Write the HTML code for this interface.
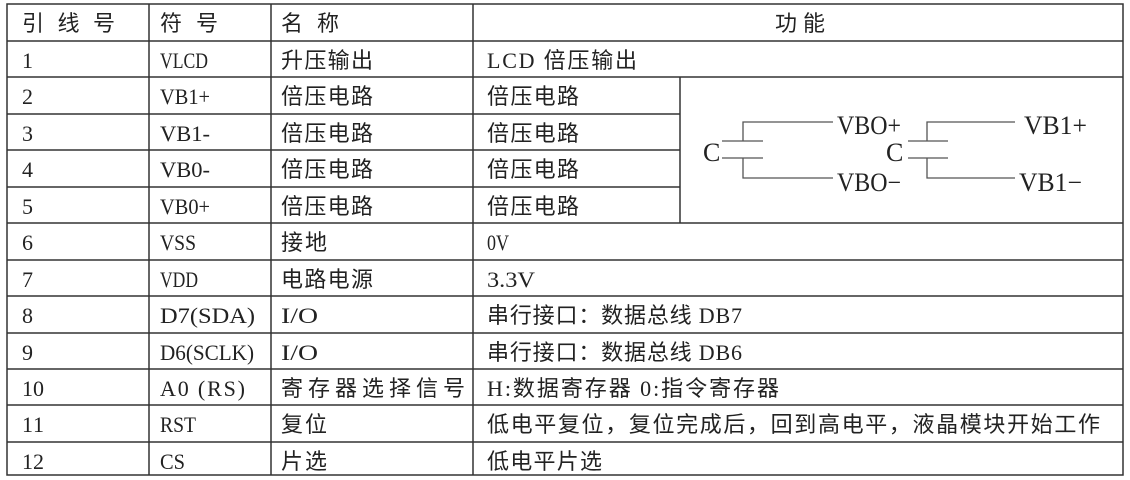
<!DOCTYPE html>
<html><head><meta charset="utf-8"><style>
html,body{margin:0;padding:0;background:#fff;width:1130px;height:480px;overflow:hidden}
svg{display:block}
text{font-family:"Liberation Serif","Noto Sans CJK SC",serif;font-size:22px;fill:#222}
.c{font-family:"Liberation Serif","Noto Sans CJK SC",sans-serif;font-size:22px}
</style></head><body>
<svg width="1130" height="480" viewBox="0 0 1130 480">
<g stroke="#333" stroke-width="1.5" fill="none">
<rect x="7" y="4" width="1116" height="471"/>
<line x1="149" y1="4" x2="149" y2="475"/>
<line x1="271" y1="4" x2="271" y2="475"/>
<line x1="473" y1="4" x2="473" y2="475"/>
<line x1="680" y1="77" x2="680" y2="223"/>
<line x1="7" y1="41" x2="1123" y2="41"/>
<line x1="7" y1="77" x2="1123" y2="77"/>
<line x1="7" y1="114" x2="680" y2="114"/>
<line x1="7" y1="150" x2="680" y2="150"/>
<line x1="7" y1="187" x2="680" y2="187"/>
<line x1="7" y1="223" x2="1123" y2="223"/>
<line x1="7" y1="260" x2="1123" y2="260"/>
<line x1="7" y1="296" x2="1123" y2="296"/>
<line x1="7" y1="333" x2="1123" y2="333"/>
<line x1="7" y1="369" x2="1123" y2="369"/>
<line x1="7" y1="405" x2="1123" y2="405"/>
<line x1="7" y1="442" x2="1123" y2="442"/>
</g>
<g stroke="#555" stroke-width="1.3" fill="none">
<path d="M722 141H763M722 158H763M743 141V122H833M743 158V178H833"/>
<path d="M908 141H948M908 158H948M927 141V122H1015M927 158V178H1015"/>
</g>
<g>
<text x="703" y="161" style="font-size:26px">C</text>
<text x="837" y="134" style="font-size:26px" textLength="64" lengthAdjust="spacingAndGlyphs">VBO+</text>
<text x="837" y="191" style="font-size:26px" textLength="64" lengthAdjust="spacingAndGlyphs">VBO−</text>
<text x="886" y="161" style="font-size:26px">C</text>
<text x="1024" y="134" style="font-size:26px" textLength="63" lengthAdjust="spacingAndGlyphs">VB1+</text>
<text x="1019" y="191" style="font-size:26px" textLength="63" lengthAdjust="spacingAndGlyphs">VB1−</text>
</g>
<text class="c" x="22" y="31" textLength="93">引 线 号</text>
<text class="c" x="160" y="31" textLength="58">符 号</text>
<text class="c" x="281" y="31" textLength="58">名 称</text>
<text class="c" x="775" y="31" textLength="50">功 能</text>

<text x="22" y="68">1</text><text x="160" y="68" textLength="48" lengthAdjust="spacingAndGlyphs">VLCD</text><text class="c" x="281" y="68" textLength="92">升压输出</text><text class="c" x="487" y="68" textLength="150">LCD 倍压输出</text>
<text x="22" y="104">2</text><text x="160" y="104" textLength="50" lengthAdjust="spacingAndGlyphs">VB1+</text><text class="c" x="281" y="104" textLength="92">倍压电路</text><text class="c" x="487" y="104" textLength="92">倍压电路</text>
<text x="22" y="141">3</text><text x="160" y="141" textLength="50" lengthAdjust="spacingAndGlyphs">VB1-</text><text class="c" x="281" y="141" textLength="92">倍压电路</text><text class="c" x="487" y="141" textLength="92">倍压电路</text>
<text x="22" y="177">4</text><text x="160" y="177" textLength="50" lengthAdjust="spacingAndGlyphs">VB0-</text><text class="c" x="281" y="177" textLength="92">倍压电路</text><text class="c" x="487" y="177" textLength="92">倍压电路</text>
<text x="22" y="214">5</text><text x="160" y="214" textLength="50" lengthAdjust="spacingAndGlyphs">VB0+</text><text class="c" x="281" y="214" textLength="92">倍压电路</text><text class="c" x="487" y="214" textLength="92">倍压电路</text>
<text x="22" y="250">6</text><text x="160" y="250" textLength="36" lengthAdjust="spacingAndGlyphs">VSS</text><text class="c" x="281" y="250" textLength="46">接地</text><text x="487" y="250" textLength="22" lengthAdjust="spacingAndGlyphs">0V</text>
<text x="22" y="287">7</text><text x="160" y="287" textLength="38" lengthAdjust="spacingAndGlyphs">VDD</text><text class="c" x="281" y="287" textLength="92">电路电源</text><text x="487" y="287" textLength="48" lengthAdjust="spacingAndGlyphs">3.3V</text>
<text x="22" y="323">8</text><text x="160" y="323" textLength="95" lengthAdjust="spacingAndGlyphs">D7(SDA)</text><text x="281" y="323" textLength="37" lengthAdjust="spacingAndGlyphs">I/O</text><text class="c" x="487" y="323" textLength="255">串行接口：数据总线 DB7</text>
<text x="22" y="360">9</text><text x="160" y="360" textLength="94" lengthAdjust="spacingAndGlyphs">D6(SCLK)</text><text x="281" y="360" textLength="37" lengthAdjust="spacingAndGlyphs">I/O</text><text class="c" x="487" y="360" textLength="255">串行接口：数据总线 DB6</text>
<text x="22" y="396" textLength="22">10</text><text class="c" x="160" y="396" textLength="85">A0 (RS)</text><text class="c" x="281" y="396" textLength="184">寄存器选择信号</text><text class="c" x="487" y="396" textLength="292">H:数据寄存器 0:指令寄存器</text>
<text x="22" y="432" textLength="22">11</text><text x="160" y="432" textLength="36" lengthAdjust="spacingAndGlyphs">RST</text><text class="c" x="281" y="432" textLength="46">复位</text><text class="c" x="487" y="432" textLength="613">低电平复位，复位完成后，回到高电平，液晶模块开始工作</text>
<text x="22" y="469" textLength="22">12</text><text x="160" y="469" textLength="25" lengthAdjust="spacingAndGlyphs">CS</text><text class="c" x="281" y="469" textLength="46">片选</text><text class="c" x="487" y="469" textLength="115">低电平片选</text>
</svg>
</body></html>
